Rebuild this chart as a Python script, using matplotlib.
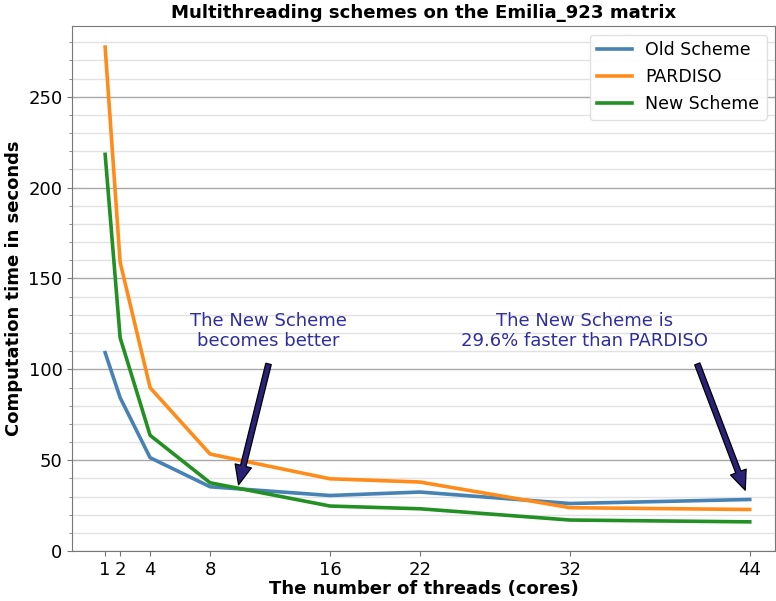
import matplotlib
matplotlib.use("Agg")
import matplotlib.pyplot as plt
from matplotlib.ticker import MultipleLocator

threads = [1, 2, 4, 8, 16, 22, 32, 44]
old_scheme = [109.2, 84.4, 51.4, 35.4, 30.6, 32.5, 26.2, 28.4]
pardiso = [277.3, 158.9, 89.9, 53.4, 39.8, 38.0, 23.9, 22.9]
new_scheme = [218.3, 117.4, 63.7, 37.6, 24.8, 23.3, 17.1, 16.1]
series_names = ["Old Scheme", "PARDISO", "New Scheme"]

fig = plt.figure(figsize=(7.76, 6.01), dpi=100)
ax = fig.add_axes([0.093, 0.083, 0.906, 0.874])

ax.plot(threads, old_scheme, color="#4682b4", lw=2.6, label=series_names[0])
ax.plot(threads, pardiso, color="#ff8c1a", lw=2.6, label=series_names[1])
ax.plot(threads, new_scheme, color="#239023", lw=2.6, label=series_names[2])

ax.set_xlim(-1.2, 45.7)
ax.set_ylim(0, 289)
ax.set_xticks(threads)
ax.yaxis.set_major_locator(MultipleLocator(50))
ax.yaxis.set_minor_locator(MultipleLocator(10))
ax.grid(axis="y", which="major", color="#a8a8a8", lw=1.0)
ax.grid(axis="y", which="minor", color="#e2e2e2", lw=1.0)
ax.set_axisbelow(True)
for s in ["left", "bottom", "top", "right"]:
    ax.spines[s].set_color("#777777")
ax.tick_params(axis="both", which="both", colors="#777777", labelcolor="black",
               labelsize=13)
ax.tick_params(axis="y", which="minor", length=2)

ax.set_title("Multithreading schemes on the Emilia_923 matrix",
             fontsize=13.1, fontweight="bold", pad=6)
ax.set_xlabel("The number of threads (cores)", fontsize=13, fontweight="bold",
              labelpad=1)
ax.set_ylabel("Computation time in seconds", fontsize=13, fontweight="bold")

ax.legend(loc="upper right", fontsize=12.5, framealpha=0.9, edgecolor="#dddddd",
          handlelength=2.0)

txt_color = "#2e2e9e"
arrow_color = "#2b2277"
ax.text(11.9, 121, "The New Scheme\nbecomes better", ha="center", va="center",
        fontsize=13, color=txt_color, linespacing=1.15)
ax.annotate("", xy=(9.9, 36.5), xytext=(11.9, 103),
            arrowprops=dict(facecolor=arrow_color, edgecolor="black", lw=0.9,
                            width=4, headwidth=12, headlength=14, shrink=0))
ax.text(33.0, 121, "The New Scheme is\n29.6% faster than PARDISO", ha="center",
        va="center", fontsize=13, color=txt_color, linespacing=1.15)
ax.annotate("", xy=(43.7, 33.5), xytext=(40.5, 103),
            arrowprops=dict(facecolor=arrow_color, edgecolor="black", lw=0.9,
                            width=4, headwidth=12, headlength=14, shrink=0))

fig.savefig("out.png", dpi=100)
